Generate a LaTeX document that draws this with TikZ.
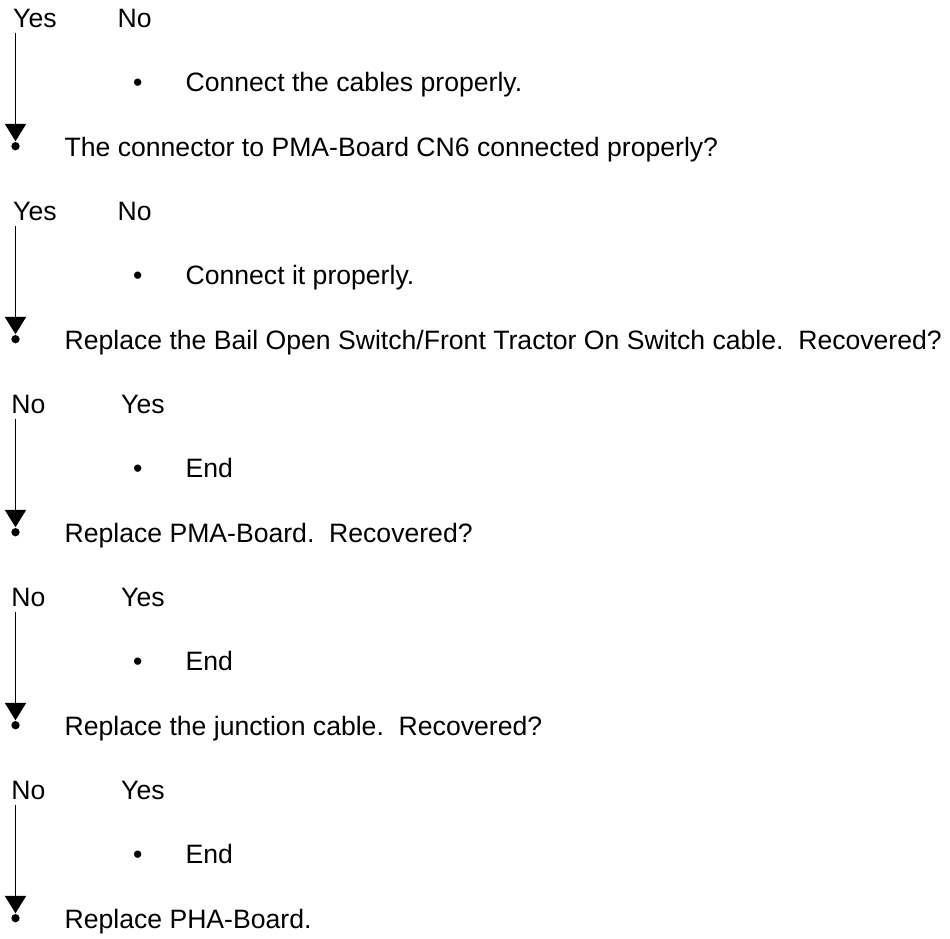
\documentclass[tikz,border=0pt]{standalone}
\usepackage{fontspec}
\setmainfont{Liberation Sans}
\usetikzlibrary{arrows.meta}

\tikzset{
  txt/.style={anchor=base west, inner sep=0pt, font=\fontsize{26.6}{31}\selectfont},
  flow/.style={line width=1.2pt, -{Triangle[width=21.3pt,length=17.5pt]}, shorten >=0.6pt},
  enddot/.style={circle, fill, inner sep=0pt, minimum size=8.3pt}
}

\begin{document}
\begin{tikzpicture}[x=1pt, y=-1pt]
\useasboundingbox (0,0) rectangle (950,938);
% step 1: cables
\begin{scope}
\node[txt] (yes1) at (13,27.3) {Yes};
\node[txt] (no1) at (117.5,27.3) {No};
\node[txt] (bul1) at (133,91.3) {•};
\node[txt] (act1) at (185.4,91.3) {Connect the cables properly.};
\node[txt] (q1) at (64.4,156.5) {The connector to PMA-Board CN6 connected properly?};
\coordinate (top1) at (15.5,32.7);
\node[enddot] (dot1) at (15.5,146.2) {};
\draw[flow] (top1) -- (dot1);
\end{scope}
% step 2: CN6
\begin{scope}[yshift=-193pt]
\node[txt] (yes2) at (13,27.3) {Yes};
\node[txt] (no2) at (117.5,27.3) {No};
\node[txt] (bul2) at (133,91.3) {•};
\node[txt] (act2) at (185.4,91.3) {Connect it properly.};
\node[txt] (q2) at (64.4,156.5) {Replace the Bail Open Switch/Front Tractor On Switch cable.\ \ Recovered?};
\coordinate (top2) at (15.5,32.7);
\node[enddot] (dot2) at (15.5,146.2) {};
\draw[flow] (top2) -- (dot2);
\end{scope}
% step 3: switch cable
\begin{scope}[yshift=-386pt]
\node[txt] (no3) at (11.3,27.3) {No};
\node[txt] (yes3) at (121,27.3) {Yes};
\node[txt] (bul3) at (133,91.3) {•};
\node[txt] (act3) at (185.4,91.3) {End};
\node[txt] (q3) at (64.4,156.5) {Replace PMA-Board.\ \ Recovered?};
\coordinate (top3) at (15.5,32.7);
\node[enddot] (dot3) at (15.5,146.2) {};
\draw[flow] (top3) -- (dot3);
\end{scope}
% step 4: PMA-Board
\begin{scope}[yshift=-579pt]
\node[txt] (no4) at (11.3,27.3) {No};
\node[txt] (yes4) at (121,27.3) {Yes};
\node[txt] (bul4) at (133,91.3) {•};
\node[txt] (act4) at (185.4,91.3) {End};
\node[txt] (q4) at (64.4,156.5) {Replace the junction cable.\ \ Recovered?};
\coordinate (top4) at (15.5,32.7);
\node[enddot] (dot4) at (15.5,146.2) {};
\draw[flow] (top4) -- (dot4);
\end{scope}
% step 5: junction cable
\begin{scope}[yshift=-772pt]
\node[txt] (no5) at (11.3,27.3) {No};
\node[txt] (yes5) at (121,27.3) {Yes};
\node[txt] (bul5) at (133,91.3) {•};
\node[txt] (act5) at (185.4,91.3) {End};
\node[txt] (q5) at (64.4,156.5) {Replace PHA-Board.};
\coordinate (top5) at (15.5,32.7);
\node[enddot] (dot5) at (15.5,146.2) {};
\draw[flow] (top5) -- (dot5);
\end{scope}
\end{tikzpicture}
\end{document}
